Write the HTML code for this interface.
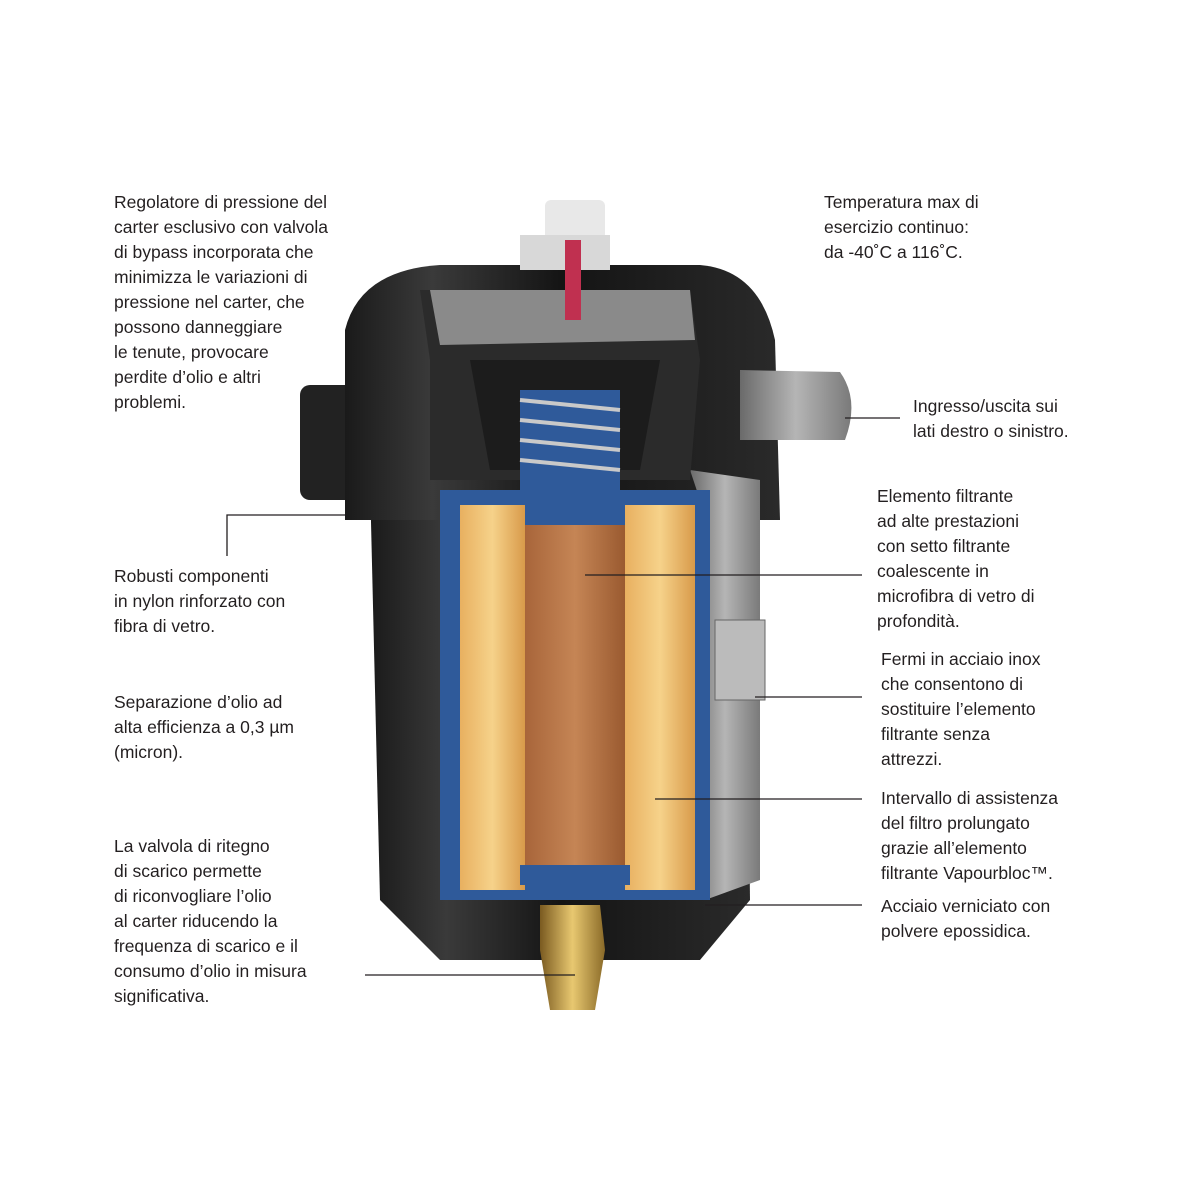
<!DOCTYPE html>
<html><head><meta charset="utf-8"><style>
html,body{margin:0;padding:0;background:#fff;}
#c{position:relative;width:1200px;height:1200px;overflow:hidden;font-family:"Liberation Sans",sans-serif;font-size:17.5px;line-height:25px;color:#231f20;}
.t{position:absolute;white-space:nowrap;}
svg{position:absolute;left:0;top:0;}
</style></head><body><div id="c">
<svg width="1200" height="1200" viewBox="0 0 1200 1200">
<defs>
<linearGradient id="blk" x1="0" x2="1"><stop offset="0" stop-color="#1a1a1a"/><stop offset="0.2" stop-color="#3a3a3a"/><stop offset="0.5" stop-color="#141414"/><stop offset="1" stop-color="#2a2a2a"/></linearGradient>
<linearGradient id="gry" x1="0" x2="1"><stop offset="0" stop-color="#6a6a6a"/><stop offset="0.5" stop-color="#b5b5b5"/><stop offset="1" stop-color="#7a7a7a"/></linearGradient>
<linearGradient id="yel" x1="0" x2="1"><stop offset="0" stop-color="#e8b060"/><stop offset="0.5" stop-color="#f6d28a"/><stop offset="1" stop-color="#d89a4a"/></linearGradient>
<linearGradient id="brn" x1="0" x2="1"><stop offset="0" stop-color="#a8653a"/><stop offset="0.5" stop-color="#c58555"/><stop offset="1" stop-color="#9a5a30"/></linearGradient>
<linearGradient id="brs" x1="0" x2="1"><stop offset="0" stop-color="#7a5a20"/><stop offset="0.5" stop-color="#e8c870"/><stop offset="1" stop-color="#8a6a28"/></linearGradient>
</defs>
<!-- left block -->
<rect x="300" y="385" width="75" height="115" rx="10" fill="#222"/>
<!-- body -->
<path d="M370 480 L745 480 L750 900 L700 960 L440 960 L380 900 Z" fill="url(#blk)"/>
<!-- cap -->
<path d="M345 520 L345 330 Q360 270 440 265 L700 265 Q760 270 775 340 L780 520 Z" fill="url(#blk)"/>
<!-- gray cutaway right -->
<path d="M690 470 L760 480 L760 880 L705 900 L700 500 Z" fill="url(#gry)"/>
<path d="M420 290 L690 290 L700 360 L690 480 L430 480 L430 360 Z" fill="#2b2b2b"/>
<path d="M430 290 L690 290 L695 340 L440 345 Z" fill="#8a8a8a"/>
<!-- spring area -->
<path d="M470 360 L660 360 L640 470 L490 470 Z" fill="#1c1c1c"/>
<rect x="520" y="390" width="100" height="100" fill="#2f5a9a"/>
<g stroke="#c9c9c9" stroke-width="4" fill="none"><path d="M520 400 L620 410"/><path d="M520 420 L620 430"/><path d="M520 440 L620 450"/><path d="M520 460 L620 470"/></g>
<!-- outlet -->
<path d="M740 370 L840 372 Q860 400 845 440 L740 440 Z" fill="url(#gry)"/>
<!-- top fitting -->
<rect x="545" y="200" width="60" height="40" rx="6" fill="#e8e8e8"/>
<rect x="520" y="235" width="90" height="35" fill="#d8d8d8"/>
<rect x="565" y="240" width="16" height="80" fill="#c03050"/>
<!-- blue base -->
<path d="M440 495 L710 495 L710 900 L440 900 Z" fill="#2f5a9a"/>
<!-- filter element -->
<rect x="460" y="505" width="65" height="385" fill="url(#yel)"/>
<rect x="625" y="505" width="70" height="385" fill="url(#yel)"/>
<rect x="525" y="525" width="100" height="345" fill="url(#brn)"/>
<rect x="440" y="490" width="270" height="14" fill="#2f5a9a"/>
<rect x="520" y="865" width="110" height="20" fill="#2f5a9a"/>
<!-- latch -->
<rect x="715" y="620" width="50" height="80" fill="#bbb" stroke="#666"/>
<!-- brass fitting -->
<path d="M540 905 L600 905 L605 950 L595 1010 L550 1010 L540 950 Z" fill="url(#brs)"/>
<!-- leader lines -->
<g stroke="#231f20" stroke-width="1.3" fill="none">
<path d="M227 556 L227 515 L345 515"/>
<path d="M845 418 L900 418"/>
<path d="M585 575 L862 575"/>
<path d="M755 697 L862 697"/>
<path d="M655 799 L862 799"/>
<path d="M705 905 L862 905"/>
<path d="M365 975 L575 975"/>
</g>
</svg>
<div class="t" style="left:114px;top:190px">Regolatore di pressione del<br>carter esclusivo con valvola<br>di bypass incorporata che<br>minimizza le variazioni di<br>pressione nel carter, che<br>possono danneggiare<br>le tenute, provocare<br>perdite d’olio e altri<br>problemi.</div>
<div class="t" style="left:114px;top:564px">Robusti componenti<br>in nylon rinforzato con<br>fibra di vetro.</div>
<div class="t" style="left:114px;top:690px">Separazione d’olio ad<br>alta efficienza a 0,3 µm<br>(micron).</div>
<div class="t" style="left:114px;top:834px">La valvola di ritegno<br>di scarico permette<br>di riconvogliare l’olio<br>al carter riducendo la<br>frequenza di scarico e il<br>consumo d’olio in misura<br>significativa.</div>
<div class="t" style="left:824px;top:190px">Temperatura max di<br>esercizio continuo:<br>da -40˚C a 116˚C.</div>
<div class="t" style="left:913px;top:394px">Ingresso/uscita sui<br>lati destro o sinistro.</div>
<div class="t" style="left:877px;top:484px">Elemento filtrante<br>ad alte prestazioni<br>con setto filtrante<br>coalescente in<br>microfibra di vetro di<br>profondità.</div>
<div class="t" style="left:881px;top:647px">Fermi in acciaio inox<br>che consentono di<br>sostituire l’elemento<br>filtrante senza<br>attrezzi.</div>
<div class="t" style="left:881px;top:786px">Intervallo di assistenza<br>del filtro prolungato<br>grazie all’elemento<br>filtrante Vapourbloc™.</div>
<div class="t" style="left:881px;top:894px">Acciaio verniciato con<br>polvere epossidica.</div>
</div></body></html>
